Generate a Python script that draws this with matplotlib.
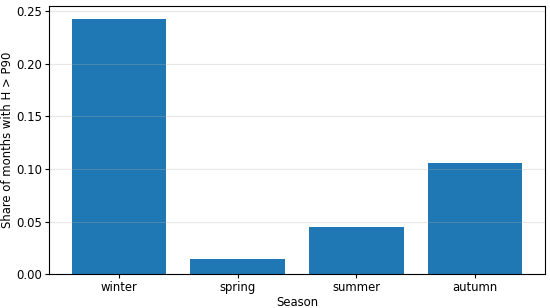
import matplotlib
matplotlib.use("Agg")
import matplotlib.pyplot as plt

seasons = ["winter", "spring", "summer", "autumn"]
share = [0.2425, 0.0147, 0.0452, 0.1055]

plt.rcParams["font.size"] = 8.4
plt.rcParams["xtick.major.pad"] = 2.0
plt.rcParams["ytick.major.pad"] = 2.0
plt.rcParams["xtick.major.size"] = 3.0
plt.rcParams["ytick.major.size"] = 3.0

fig, ax = plt.subplots(figsize=(5.5, 3.08), dpi=100)
ax.bar(seasons, share, color="#1f77b4")
ax.grid(axis="y", alpha=0.3)
ax.set_xlabel("Season", labelpad=1.5)
ax.set_ylabel("Share of months with H > P90", labelpad=1.5)
fig.subplots_adjust(left=0.089, right=0.991, top=0.98, bottom=0.11)
fig.savefig("out.png")
